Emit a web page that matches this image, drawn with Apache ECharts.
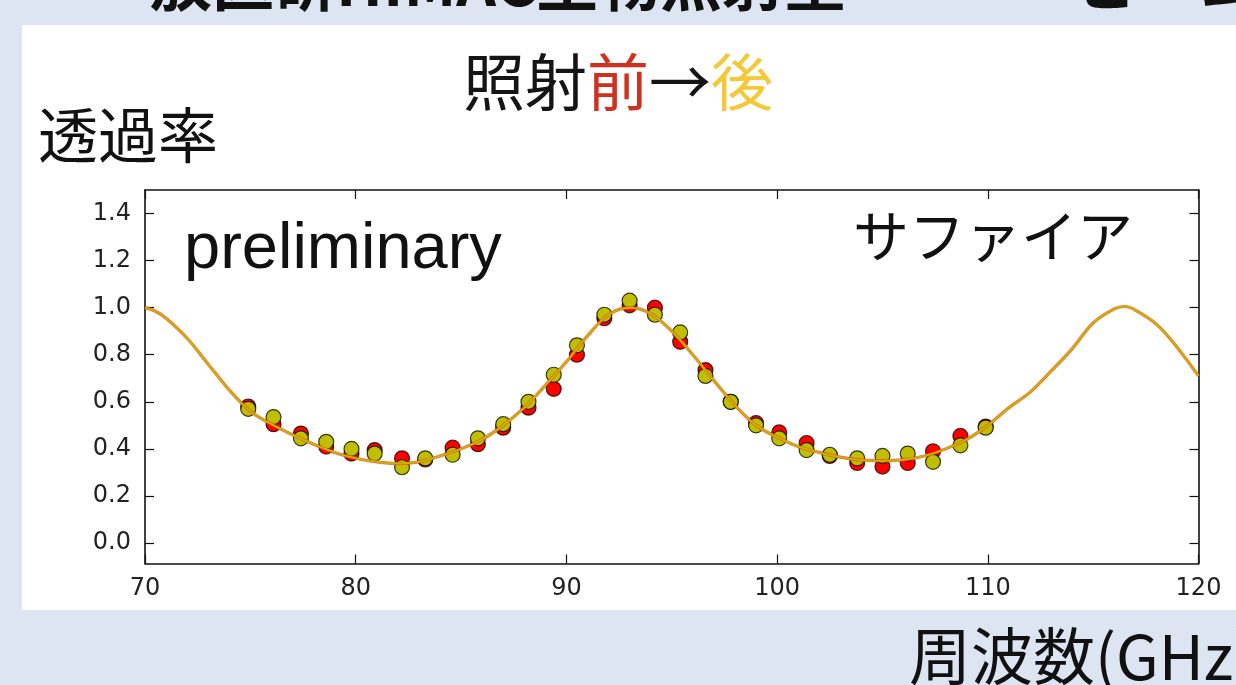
<!DOCTYPE html>
<html>
<head>
<meta charset="utf-8">
<script src="https://cdn.jsdelivr.net/npm/echarts@6/dist/echarts.min.js"></script>
<style>
  html, body { margin: 0; padding: 0; background: #dde5f2; }
  #chart { width: 1236px; height: 685px; }
</style>
</head>
<body>
<div id="chart"></div>
<script>
// Measured frequencies (GHz)
const freqPoints = [74.9, 76.1, 77.4, 78.6, 79.8, 80.9, 82.2, 83.3, 84.6, 85.8,
                    87.0, 88.2, 89.4, 90.5, 91.8, 93.0, 94.2, 95.4, 96.6, 97.8,
                    99.0, 100.1, 101.4, 102.5, 103.8, 105.0, 106.2, 107.4, 108.7, 109.9];
// Transmittance before irradiation
const transBefore = [0.58, 0.505, 0.465, 0.41, 0.38, 0.395, 0.36, 0.355, 0.405, 0.42,
                     0.49, 0.575, 0.655, 0.80, 0.955, 1.01, 1.00, 0.855, 0.735, 0.60,
                     0.51, 0.47, 0.425, 0.37, 0.34, 0.325, 0.34, 0.39, 0.455, 0.495];
// Transmittance after irradiation
const transAfter = [0.57, 0.535, 0.445, 0.43, 0.40, 0.38, 0.322, 0.36, 0.375, 0.445,
                    0.505, 0.60, 0.715, 0.84, 0.97, 1.03, 0.97, 0.895, 0.71, 0.60,
                    0.50, 0.445, 0.395, 0.375, 0.36, 0.37, 0.38, 0.345, 0.415, 0.49];
// Fitted transmission curve of the sapphire window
const modelFreq = [70, 70.5, 71, 72, 73, 74, 75, 76, 77, 78, 79, 80, 81, 82, 83, 84, 85, 86, 87, 88, 89,
                   90, 91, 92, 93, 94, 95, 96, 97, 98, 99, 100, 101, 102, 103, 104, 105, 106, 107, 108, 109,
                   110, 111, 112, 113, 114, 115, 116, 116.5, 117, 118, 119, 120];
const modelTrans = [1.00, 0.985, 0.955, 0.87, 0.76, 0.65, 0.56, 0.505, 0.46, 0.42, 0.385, 0.36, 0.345, 0.338, 0.345, 0.37, 0.40, 0.44, 0.50, 0.575, 0.67,
                    0.77, 0.88, 0.97, 1.00, 0.975, 0.90, 0.80, 0.69, 0.585, 0.50, 0.45, 0.41, 0.385, 0.365, 0.352, 0.35, 0.354, 0.37, 0.40, 0.44,
                    0.50, 0.575, 0.64, 0.73, 0.825, 0.935, 0.995, 1.005, 0.99, 0.93, 0.83, 0.71];
const yTickValues = [0.0, 0.2, 0.4, 0.6, 0.8, 1.0, 1.2, 1.4];

const pair = (xs, ys) => xs.map((x, i) => [x, ys[i]]);

const JP = '"Noto Sans CJK JP", sans-serif';
const tickFont = { fontFamily: '"DejaVu Sans", sans-serif', fontSize: 24, color: '#222' };
const axisLine = { show: true, onZero: false, lineStyle: { color: '#111', width: 1.6 } };
const tickIn = { show: true, inside: true, length: 9, lineStyle: { color: '#111', width: 1.2 } };

const chart = echarts.init(document.getElementById('chart'), null, { renderer: 'canvas' });

chart.setOption({
  backgroundColor: '#dde5f2',
  animation: false,
  title: {
    text: '{a|照射}{b|前}{a|→}{c|後}',
    left: 'center',
    top: 46,
    textStyle: {
      fontWeight: 'normal',
      rich: {
        a: { fontFamily: JP, fontSize: 62, fontWeight: 'normal', color: '#151515' },
        b: { fontFamily: JP, fontSize: 62, fontWeight: 'normal', color: '#d0301e' },
        c: { fontFamily: JP, fontSize: 62, fontWeight: 'normal', color: '#f3c93a' }
      }
    }
  },
  graphic: [
    { type: 'rect', z: -100, silent: true,
      shape: { x: 22, y: 25, width: 1214, height: 585 },
      style: { fill: '#ffffff' } },
    { type: 'text', style: { text: '放医研HIMAC生物照射室', x: 150, y: -18,
      fontFamily: JP, fontSize: 62, fontWeight: 'bold', fill: '#111', verticalAlign: 'middle' } },
    { type: 'text', style: { text: 'ビーム', x: 1076, y: -18,
      fontFamily: JP, fontSize: 62, fontWeight: 'bold', fill: '#111', verticalAlign: 'middle' } },
    { type: 'text', style: { text: '透過率', x: 38, y: 135,
      fontFamily: JP, fontSize: 60, fill: '#111', verticalAlign: 'middle' } },
    { type: 'text', style: { text: 'preliminary', x: 184, y: 250,
      fontFamily: '"Liberation Sans", Arial, sans-serif', fontSize: 65, fill: '#111', verticalAlign: 'middle' } },
    { type: 'text', style: { text: 'サファイア', x: 853, y: 236,
      fontFamily: JP, fontSize: 56, fill: '#111', verticalAlign: 'middle' } },
    { type: 'text', style: { text: '周波数(GHz)', x: 909, y: 656,
      fontFamily: JP, fontSize: 62, fill: '#111', verticalAlign: 'middle' } }
  ],
  grid: { left: 145, right: 37.5, top: 190, bottom: 121.5, containLabel: false },
  xAxis: [
    { type: 'value', min: 70, max: 120, interval: 10, position: 'bottom',
      axisLine: axisLine, axisTick: tickIn, splitLine: { show: false },
      axisLabel: Object.assign({ margin: 13 }, tickFont) },
    { type: 'value', min: 70, max: 120, interval: 10, position: 'top',
      axisLine: axisLine, axisTick: tickIn, splitLine: { show: false },
      axisLabel: { show: false } }
  ],
  yAxis: [
    { type: 'value', min: -0.087, max: 1.5, position: 'left',
      axisLine: axisLine, splitLine: { show: false },
      axisTick: Object.assign({ customValues: yTickValues }, tickIn),
      axisLabel: Object.assign({ margin: 14, customValues: yTickValues,
        formatter: v => v.toFixed(1) }, tickFont) },
    { type: 'value', min: -0.087, max: 1.5, position: 'right',
      axisLine: axisLine, splitLine: { show: false },
      axisTick: Object.assign({ customValues: yTickValues }, tickIn),
      axisLabel: { show: false } }
  ],
  series: [
    { name: '照射前', type: 'scatter', data: pair(freqPoints, transBefore), symbolSize: 15, z: 3,
      itemStyle: { color: '#ff0000', borderColor: 'rgba(0,0,0,0.75)', borderWidth: 1.2, opacity: 1 } },
    { name: '照射後', type: 'scatter', data: pair(freqPoints, transAfter), symbolSize: 15, z: 4,
      itemStyle: { color: '#bfbf00', borderColor: 'rgba(0,0,0,0.75)', borderWidth: 1.2, opacity: 1 } },
    { name: '照射前 fit', type: 'line', data: pair(modelFreq, modelTrans), smooth: 0.35, showSymbol: false, z: 5,
      clip: true, lineStyle: { color: '#f04020', width: 3.2, opacity: 0.8 } },
    { name: '照射後 fit', type: 'line', data: pair(modelFreq, modelTrans), smooth: 0.35, showSymbol: false, z: 6,
      clip: true, lineStyle: { color: '#c8b400', width: 2 } }
  ]
});
</script>
</body>
</html>
